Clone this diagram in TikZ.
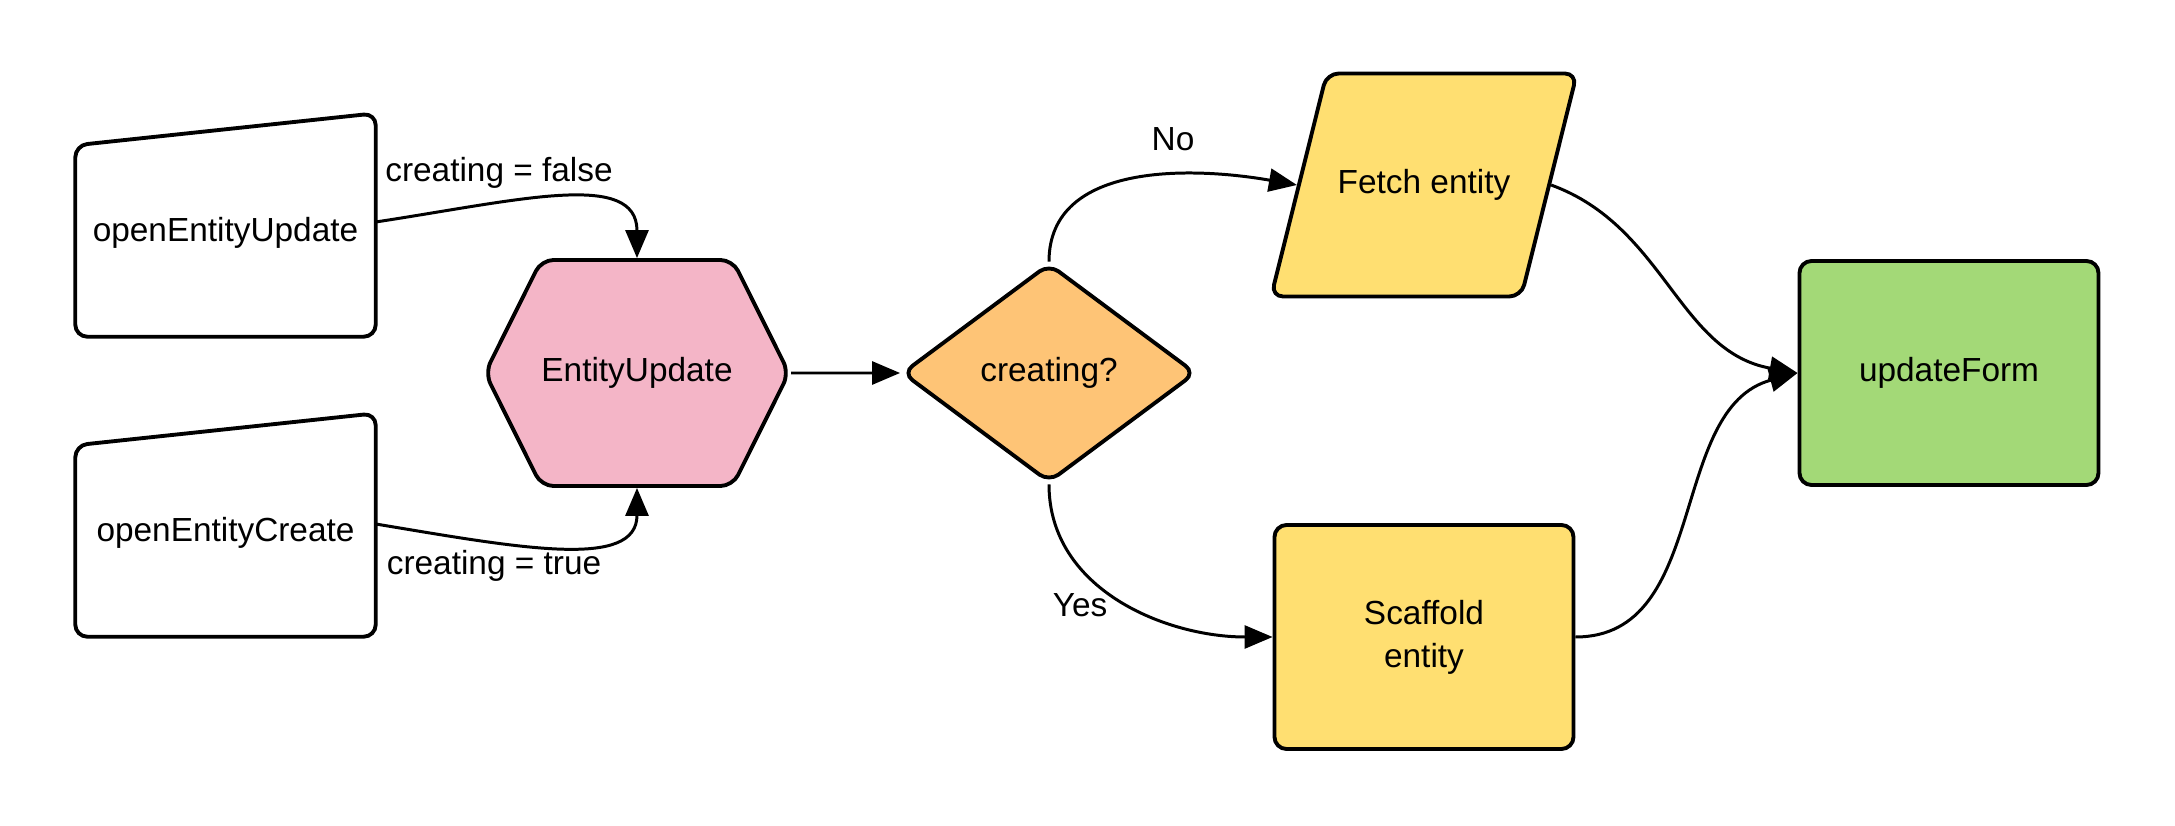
\documentclass[tikz,border=0pt]{standalone}
\usepackage{fontspec}
\setmainfont{Liberation Sans}
\usetikzlibrary{positioning,arrows.meta,shapes.geometric,shapes.symbols}
\definecolor{rosa}{RGB}{244,181,199}
\definecolor{korange}{RGB}{254,196,118}
\definecolor{gelb}{RGB}{255,223,113}
\definecolor{gruen}{RGB}{163,217,119}

\begin{document}
\begin{tikzpicture}[font=\fontsize{9.5}{12.2}\selectfont,
		box/.style={draw, line width=1.1pt, rounded corners=1.2mm, minimum width=2.99cm, minimum height=2.24cm, align=center, inner sep=0},
		pfeil/.style={-{Triangle[length=2.8mm,width=2.3mm]}, line width=0.85pt}]
		\useasboundingbox (0,0) rectangle (21.75,8.25);
		% nodes
		
		\node[minimum width=2.99cm, minimum height=2.06cm, inner sep=0] (update) at (2.255,5.92) {openEntityUpdate};
		\node[minimum width=2.99cm, minimum height=2.06cm, inner sep=0, below of = update, node distance = 3.0cm] (create) {openEntityCreate};
		\draw[line width=1.1pt, rounded corners=1.2mm] (update.south west) -- (update.south east) -- ([yshift=1.6mm]update.north east) -- ([yshift=-1.6mm]update.north west) -- cycle;
		\draw[line width=1.1pt, rounded corners=1.2mm] (create.south west) -- (create.south east) -- ([yshift=1.6mm]create.north east) -- ([yshift=-1.6mm]create.north west) -- cycle;
		
		\node[box, signal, signal to=west and east, signal pointer angle=127, fill=rosa, minimum width=2.97cm, minimum height=2.26cm] (entity) at (6.37,4.52) {EntityUpdate};
		\node[box, diamond, aspect=1.34, fill=korange, right of = entity, node distance = 4.12cm, minimum width=2.94cm, minimum height=2.19cm] (creating) {creating?};
		
		\node[box, trapezium, trapezium left angle=76, trapezium right angle=104, fill=gelb, minimum width=0pt, minimum height=0pt, inner xsep=1.1mm, inner ysep=0.96cm, text height=0.24cm, text depth=0.07cm] (fetch) at (14.24,6.4) {Fetch entity};
		\node[box, fill=gelb, below of = fetch, node distance = 4.52cm] (scaffold) {Scaffold\\entity};
		\node[box, fill=gruen] (form) at (19.49,4.52) {updateForm};
		
		% labels
		\node (lblfalse) at (4.99,6.52) {creating = false};
		\node (lbltrue) at (4.94,2.59) {creating = true};
		\node (lblno) at (11.73,6.86) {No};
		\node (lblyes) at (10.80,2.20) {Yes};
		
		% connections
		\draw[pfeil] ([yshift=1.1mm]update.east) .. controls (5.2,6.25) and (6.37,6.55) .. (entity.north);
		\draw[pfeil] ([yshift=0.9mm]create.east) .. controls (5.2,2.77) and (6.37,2.55) .. (entity.south);
		\draw[pfeil] (entity) -- (creating);
		\draw[pfeil] (creating.north) to[out=90, in=170] (fetch.west);
		\draw[pfeil] (creating.south) to[out=-90, in=180] (scaffold.west);
		\draw[pfeil] (fetch.east) to[out=-20, in=170] (form.west);
		\draw[pfeil] (scaffold.east) to[out=0, in=195] (form.west);
\end{tikzpicture}
\end{document}
